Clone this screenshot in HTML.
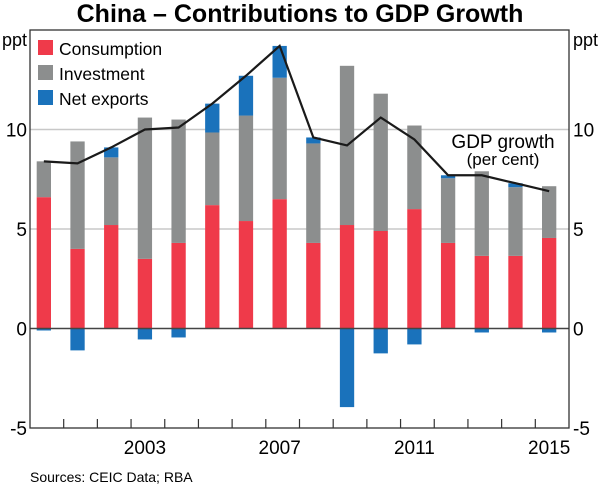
<!DOCTYPE html>
<html><head><meta charset="utf-8"><style>
body{margin:0;background:#fff;}
svg{display:block;font-family:"Liberation Sans",Arial,sans-serif;}
</style></head><body>
<svg id="chart" width="600" height="488" viewBox="0 0 600 488">
<text x="300" y="22" text-anchor="middle" font-size="25" font-weight="bold" fill="#000">China – Contributions to GDP Growth</text>
<g id="grid"></g>
<g id="bars"></g>
<g id="line"></g>
<g id="axes"></g>
<g>
<rect x="38" y="40" width="15" height="15" fill="#ef3a4a"/>
<text x="59" y="55" font-size="17.5">Consumption</text>
<rect x="38" y="65" width="15" height="15" fill="#8c8e8e"/>
<text x="59" y="80" font-size="17.5">Investment</text>
<rect x="38" y="90" width="15" height="15" fill="#1a72bb"/>
<text x="59" y="105" font-size="17.5">Net exports</text>
</g>
<text x="503" y="148" text-anchor="middle" font-size="19">GDP growth</text>
<text x="503" y="165" text-anchor="middle" font-size="17">(per cent)</text>
<text x="27" y="46" text-anchor="end" font-size="18">ppt</text>
<text x="573" y="46" font-size="18">ppt</text>
<text x="30" y="482" font-size="14">Sources:   CEIC Data; RBA</text>
</svg>
<script>
const years = [2000,2001,2002,2003,2004,2005,2006,2007,2008,2009,2010,2011,2012,2013,2014,2015];
const consumption = [6.6,4.0,5.2,3.5,4.3,6.2,5.4,6.5,4.3,5.2,4.9,6.0,4.3,3.65,3.65,4.55];
const investment = [1.8,5.4,3.4,7.1,6.2,3.65,5.3,6.1,5.0,8.0,6.9,4.2,3.25,4.25,3.45,2.6];
const netExports = [-0.1,-1.1,0.5,-0.55,-0.45,1.45,2.0,1.6,0.3,-3.95,-1.25,-0.8,0.15,-0.2,0.2,-0.2];
const gdpGrowth = [8.4,8.3,9.1,10.0,10.1,11.3,12.7,14.2,9.6,9.2,10.6,9.5,7.7,7.7,7.3,6.9];
const yTicks = [-5,0,5,10];
const xLabels = [2003,2007,2011,2015];

const NS="http://www.w3.org/2000/svg";
const L=30,R=569,T=30,B=428,yMin=-5,yMax=15;
const slot=(R-L)/years.length;
const y=v=>T+(yMax-v)*(B-T)/(yMax-yMin);
const xc=i=>L+(i+0.5)*slot-3;
const bw=14.3;
function mk(tag,attrs,parent){const e=document.createElementNS(NS,tag);for(const k in attrs)e.setAttribute(k,attrs[k]);document.getElementById(parent).appendChild(e);return e;}

yTicks.forEach(v=>{
  if(v!==0&&v!==yMin){const g=mk('line',{x1:L,x2:R,y1:y(v),y2:y(v),stroke:'#c8c8c8','stroke-width':1.5},'grid');
  
  }
  const t1=mk('text',{x:27,y:y(v)+7,'text-anchor':'end','font-size':19},'axes');t1.textContent=v;
  
  
  const t2=mk('text',{x:573,y:y(v)+7,'font-size':19},'axes');t2.textContent=v;
  
  
});

years.forEach((yr,i)=>{
  const x=xc(i)-bw/2;
  const c=consumption[i],inv=investment[i],nx=netExports[i];
  const r1=mk('rect',{x:x,width:bw,y:y(c),height:y(0)-y(c),fill:'#ef3a4a'},'bars');
  
  
  const r2=mk('rect',{x:x,width:bw,y:y(c+inv),height:y(c)-y(c+inv),fill:'#8c8e8e'},'bars');
  
  
  let r3;
  if(nx>=0) r3=mk('rect',{x:x,width:bw,y:y(c+inv+nx),height:y(c+inv)-y(c+inv+nx),fill:'#1a72bb'},'bars');
  else r3=mk('rect',{x:x,width:bw,y:y(0),height:y(nx)-y(0),fill:'#1a72bb'},'bars');
  
  
});

const pts=gdpGrowth.map((v,i)=>xc(i)+','+y(v)).join(' ');
const pl=mk('polyline',{points:pts,fill:'none',stroke:'#1a1a1a','stroke-width':2.2,'stroke-linejoin':'miter'},'line');



const z=mk('line',{x1:L,x2:R,y1:y(0),y2:y(0),stroke:'#444','stroke-width':1.5},'axes');


const fr=mk('rect',{x:L,y:T,width:R-L,height:B-T,fill:'none',stroke:'#333','stroke-width':1.3},'axes');


for(let k=1;k<years.length;k++){
  const tk=mk('line',{x1:L+k*slot,x2:L+k*slot,y1:B,y2:B-9,stroke:'#333','stroke-width':1.2},'axes');
  
  
}
xLabels.forEach(yr=>{
  const i=years.indexOf(yr);
  const t=mk('text',{x:xc(i),y:454,'text-anchor':'middle','font-size':19},'axes');t.textContent=yr;
  
  
});
</script>
</body></html>
